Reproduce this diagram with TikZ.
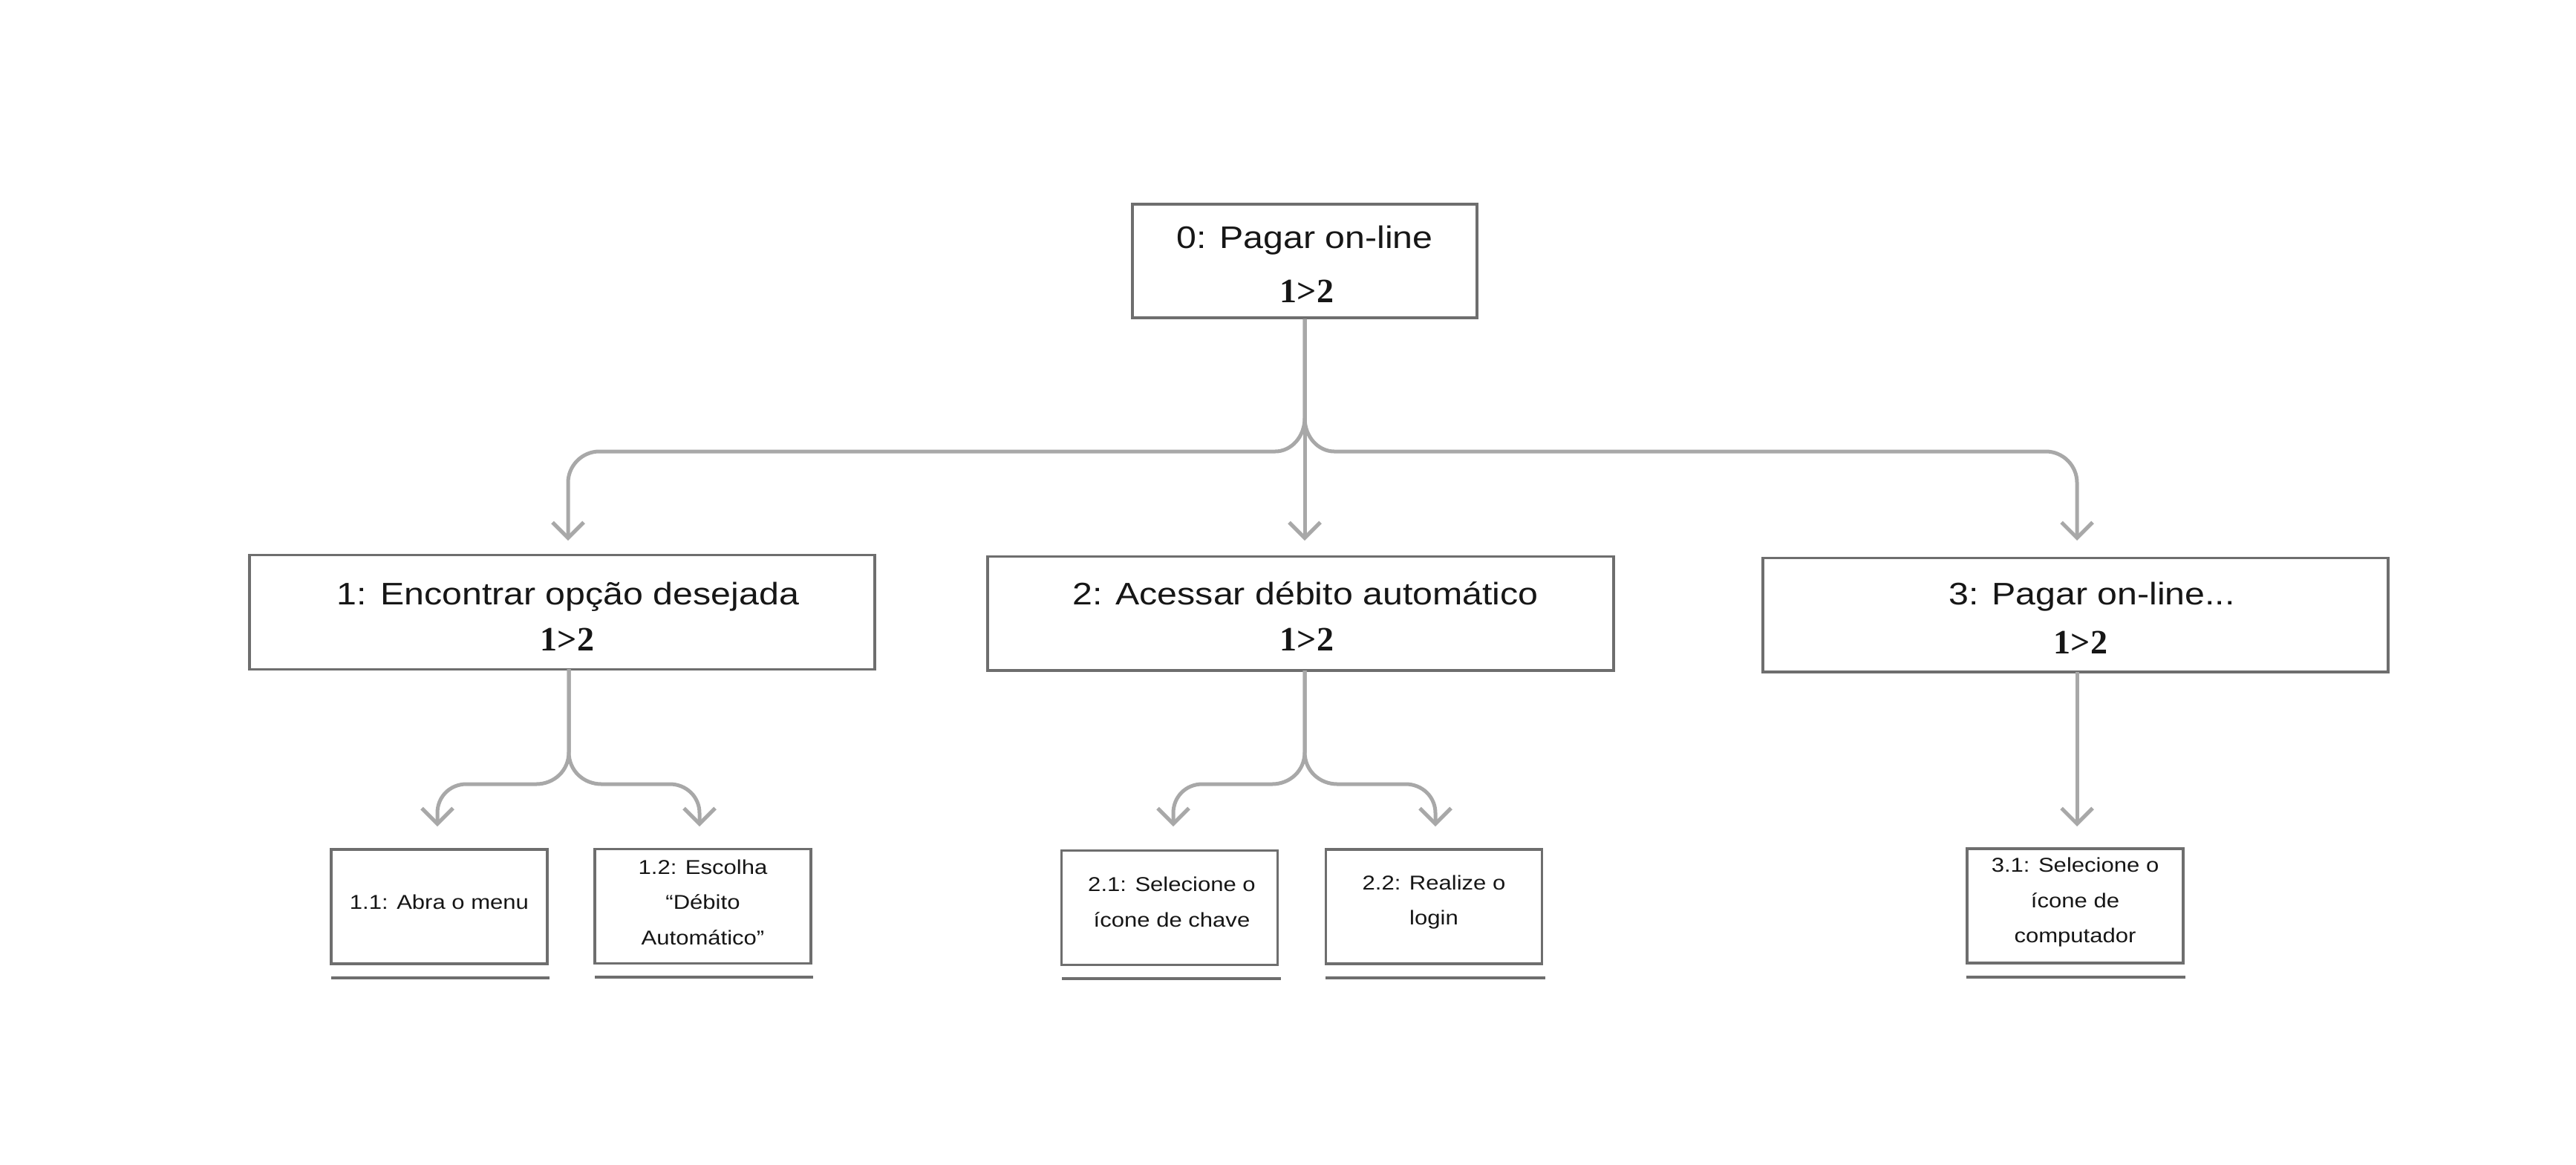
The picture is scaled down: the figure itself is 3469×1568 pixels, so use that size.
\documentclass[tikz,border=0pt]{standalone}
\usepackage{fontspec}
\setmainfont{Liberation Sans}[FakeStretch=1.15]
\newfontfamily\numfont{Liberation Serif}
\usetikzlibrary{arrows.meta}
\definecolor{boxc}{HTML}{6E6E6E}
\definecolor{linec}{HTML}{A8A8A8}
\definecolor{txt}{HTML}{161616}
\begin{document}
\begin{tikzpicture}[x=0.25pt,y=-0.25pt,
  box/.style={draw=boxc,line width=0.85pt,fill=white,inner sep=0pt},
  bigbox/.style={box,minimum width=#1,minimum height=38.4pt},
  smallbox/.style={box,minimum width=72.75pt,minimum height=38.5pt},
  smalltxt/.style={inner sep=0pt,text=txt,align=center,
     font=\fontsize{6.75pt}{11.9pt}\selectfont},
  lvltxt/.style={inner sep=0pt,text=txt,font=\fontsize{10.5pt}{12pt}\selectfont},
  numtxt/.style={inner sep=0pt,text=txt,font=\numfont\bfseries\fontsize{11.5pt}{14pt}\selectfont},
  conn/.style={draw=linec,line width=1.25pt,-{Straight Barb[length=5.25pt,width=10.5pt]}},
  uline/.style={draw=boxc,line width=1pt}]
\useasboundingbox (0,0) rectangle (3469,1568);
\fill[white] (0,0) rectangle (3469,1568);

% level 0
\node[bigbox=116pt,minimum height=38.25pt] (b0) at (1757,351.5) {};
\node[lvltxt,anchor=base] (b0t) at (1757,334) {0: Pagar on-line};
\node[numtxt,anchor=base] (b0n) at (1760,407) {1>2};

% level 1
\node[bigbox=210.5pt] (b1) at (757,824.5) {};
\node[lvltxt,anchor=base] (b1t) at (765,814) {1: Encontrar opção desejada};
\node[numtxt,anchor=base] (b1n) at (764,876) {1>2};

\node[bigbox=210.75pt] (b2) at (1751.5,826) {};
\node[lvltxt,anchor=base] (b2t) at (1758,814) {2: Acessar débito automático};
\node[numtxt,anchor=base] (b2n) at (1760,876) {1>2};

\node[bigbox=210.5pt] (b3) at (2795,828) {};
\node[lvltxt,anchor=base] (b3t) at (2817,814) {3: Pagar on-line...};
\node[numtxt,anchor=base] (b3n) at (2802,880) {1>2};

% level 2
\node[smallbox] (s11) at (591.5,1221) {};
\node[smalltxt] (s11t) at (591.5,1215) {1.1: Abra o menu};
\node[smallbox] (s12) at (946.5,1220.5) {};
\node[smalltxt] (s12t) at (946.5,1215) {1.2: Escolha\\“Débito\\Automático”};
\node[smallbox] (s21) at (1575,1222.5) {};
\node[smalltxt] (s21t) at (1578,1215) {2.1: Selecione o\\ícone de chave};
\node[smallbox] (s22) at (1931,1221) {};
\node[smalltxt] (s22t) at (1931,1215) {2.2: Realize o\\login};
\node[smallbox] (s31) at (2794.5,1220) {};
\node[smalltxt] (s31t) at (2794.5,1215) {3.1: Selecione o\\ícone de\\computador};

% underlines
\draw[uline] (446,1317) -- (740,1317);
\draw[uline] (801,1316) -- (1095,1316);
\draw[uline] (1430,1318) -- (1725,1318);
\draw[uline] (1785,1317) -- (2081,1317);
\draw[uline] (2648,1316) -- (2943,1316);

% arrow tip coordinates
\coordinate (t1) at (765,728);
\coordinate (t2) at (1757,728);
\coordinate (t3) at (2797,728);
\coordinate (t11) at (589,1113);
\coordinate (t12) at (942,1113);
\coordinate (t21) at (1580,1113);
\coordinate (t22) at (1933,1113);
\coordinate (t31) at (2797,1113);

% level 0 -> level 1
\draw[conn] (b0.south) -- (t2);
\draw[conn] (b0.south) -- (1757,563) .. controls (1757,588) and (1739,608) .. (1717,608)
   -- (807,608) .. controls (784,608) and (765,627) .. (765,650) -- (t1);
\draw[conn] (b0.south) -- (1757,563) .. controls (1757,588) and (1775,608) .. (1797,608)
   -- (2755,608) .. controls (2778,608) and (2797,627) .. (2797,650) -- (t3);

% level 1 -> level 2 (box 1)
\draw[conn] (766,901) -- (766,1013) .. controls (766,1038) and (746,1056) .. (722,1056)
   -- (628,1056) .. controls (606,1056) and (589,1073) .. (589,1095) -- (t11);
\draw[conn] (766,901) -- (766,1013) .. controls (766,1038) and (786,1056) .. (810,1056)
   -- (902,1056) .. controls (924,1056) and (942,1073) .. (942,1095) -- (t12);

% box 2
\draw[conn] (1757,903) -- (1757,1013) .. controls (1757,1038) and (1737,1056) .. (1713,1056)
   -- (1619,1056) .. controls (1597,1056) and (1580,1073) .. (1580,1095) -- (t21);
\draw[conn] (1757,903) -- (1757,1013) .. controls (1757,1038) and (1777,1056) .. (1801,1056)
   -- (1893,1056) .. controls (1915,1056) and (1933,1073) .. (1933,1095) -- (t22);

% box 3
\draw[conn] (2797,905) -- (t31);
\end{tikzpicture}
\end{document}
